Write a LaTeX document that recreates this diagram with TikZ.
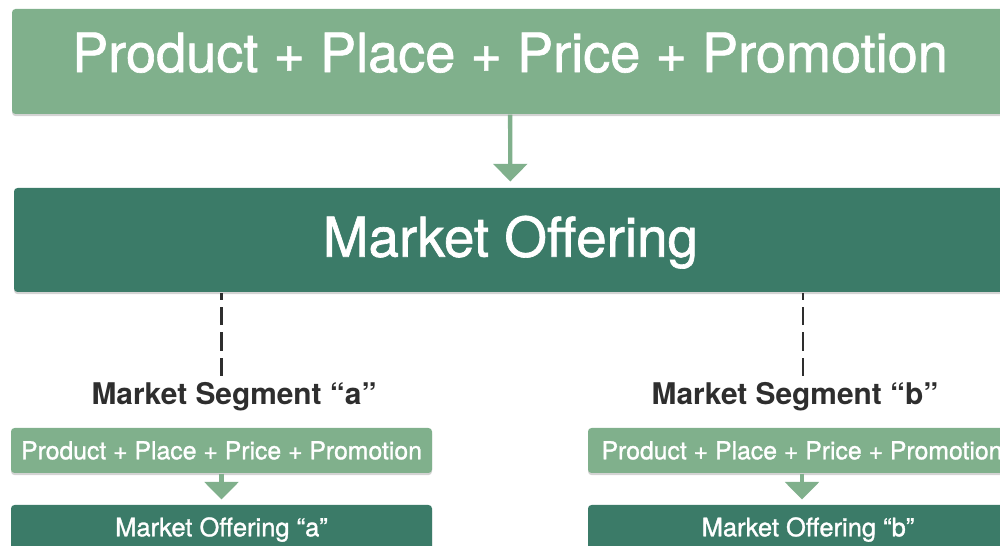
\documentclass[tikz,border=0pt]{standalone}
\usepackage{fontspec}
\setmainfont{TeX Gyre Heros}
\newfontfamily\boxfont{TeX Gyre Heros}[FakeBold=1.2]
\usetikzlibrary{arrows.meta,positioning,shadows}
\definecolor{mixgreen}{RGB}{128,176,140}
\definecolor{offergreen}{RGB}{59,123,104}
\definecolor{labelgray}{RGB}{46,46,46}

\begin{document}
\begin{tikzpicture}[x=0.02cm,y=-0.02cm,semithick,
                    >={Triangle[width=19pt,length=10pt]}]
  \tikzstyle{box}=[rectangle,rounded corners=2pt,text=white,inner sep=0pt,
                   drop shadow={shadow xshift=0pt,shadow yshift=-1.2pt,opacity=0.35}]
  \tikzstyle{bigmix}=[box,fill=mixgreen,minimum width=996*0.02cm,minimum height=105*0.02cm,
                      font=\boxfont\fontsize{30.8}{31}\selectfont,text height=22pt,text depth=10pt]
  \tikzstyle{bigoffer}=[box,fill=offergreen,minimum width=993*0.02cm,minimum height=104*0.02cm,
                        font=\boxfont\fontsize{31.2}{31}\selectfont,text height=22pt,text depth=3pt]
  \tikzstyle{smallmix}=[box,fill=mixgreen,minimum width=421*0.02cm,minimum height=45*0.02cm,
                        font=\boxfont\fontsize{14.1}{14}\selectfont,text height=10pt,text depth=0pt]
  \tikzstyle{smalloffer}=[box,fill=offergreen,minimum width=421*0.02cm,minimum height=45*0.02cm,
                          font=\boxfont\fontsize{14.5}{14.5}\selectfont,text height=10pt,text depth=0pt]
  \tikzstyle{segment}=[text=labelgray,inner sep=0pt,font=\bfseries\fontsize{17}{17}\selectfont,
                       text height=12pt,text depth=0pt]
  \tikzstyle{feed}=[->,mixgreen,line width=2.5pt]
  \tikzstyle{dashline}=[-,labelgray,line width=1.4pt,dash pattern=on 10.5pt off 4pt]

  \useasboundingbox (0,0) rectangle (1000,546);
  \clip (0,0) rectangle (1000,546);

  \node[bigmix]   (mix)   at (510,61.5)  {Product + Place + Price + Promotion};
  \node[bigoffer] (offer) at (510.5,240) {Market Offering};

  \node[segment]  (sega)  at (234,394)   {Market Segment “a”};
  \node[segment]  (segb)  at (795,394)   {Market Segment “b”};

  \node[smallmix]   (mixa)   at (221.5,450.5) {Product + Place + Price + Promotion};
  \node[smalloffer] (offera) at (221.5,527.5) {Market Offering “a”};
  \node[smallmix,minimum width=428*0.02cm]   (mixb)   at (802,450.5) {Product + Place + Price + Promotion};
  \node[smalloffer,minimum width=440*0.02cm] (offerb) at (808,527.5) {Market Offering “b”};

  \coordinate (enda) at (221.5,376);
  \coordinate (endb) at (803,376);

  \draw[feed,shorten >=3.4pt] (mix) -- (offer);
  \draw[dashline] (enda) -- (offer.south -| enda);
  \draw[dashline] (endb) -- (offer.south -| endb);
  \draw[feed,shorten >=2.8pt] (mixa) -- (mixa.south |- offera.north);
  \draw[feed,shorten >=2.8pt] (mixb) -- (mixb.south |- offerb.north);
\end{tikzpicture}
\end{document}
